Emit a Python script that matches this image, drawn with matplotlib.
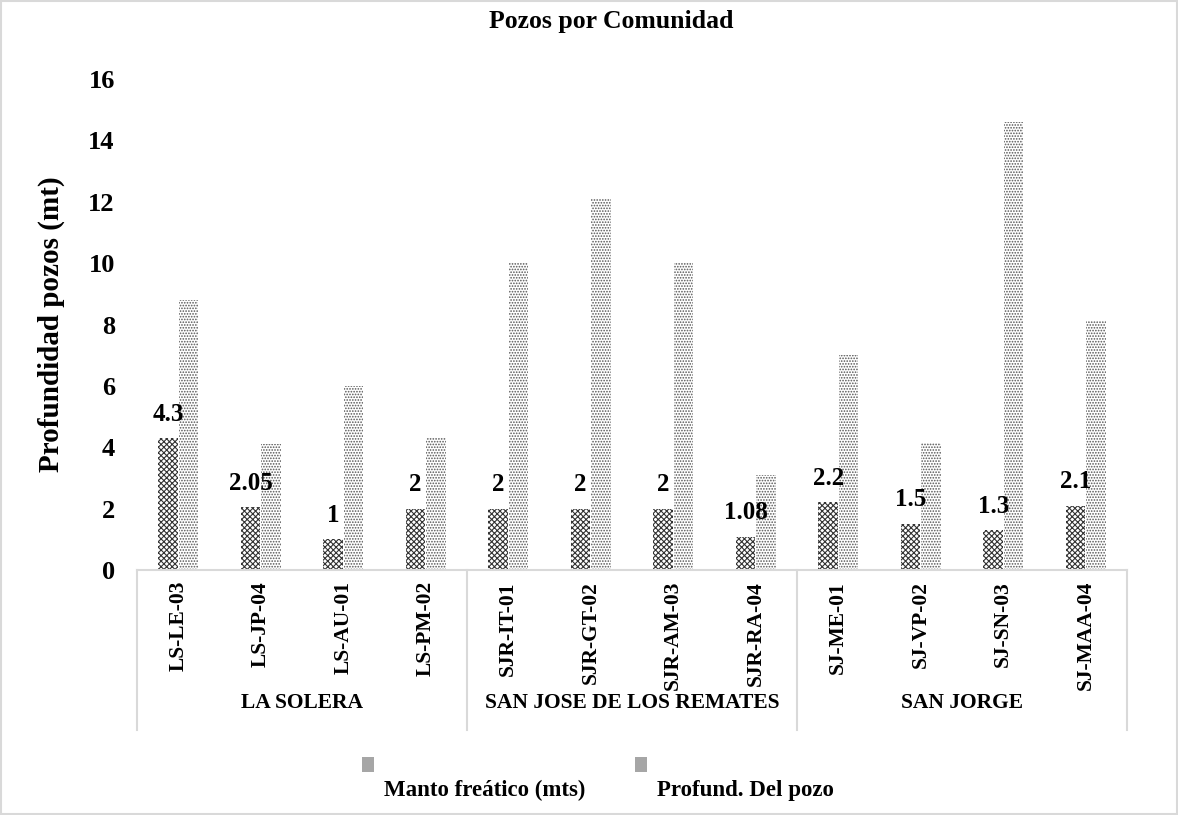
import numpy as np
import matplotlib.pyplot as plt
from matplotlib.patches import Patch, Rectangle
from matplotlib.legend_handler import HandlerPatch

plt.rcParams['font.family'] = ['Liberation Serif', 'DejaVu Serif']
plt.rcParams['font.weight'] = 'bold'
plt.rcParams['hatch.linewidth'] = 0.8

pozos = ["LS-LE-03", "LS-JP-04", "LS-AU-01", "LS-PM-02",
         "SJR-IT-01", "SJR-GT-02", "SJR-AM-03", "SJR-RA-04",
         "SJ-ME-01", "SJ-VP-02", "SJ-SN-03", "SJ-MAA-04"]
comunidades = ["LA SOLERA", "SAN JOSE DE LOS REMATES", "SAN JORGE"]
n_por_comunidad = [4, 4, 4]
manto = [4.3, 2.05, 1, 2, 2, 2, 2, 1.08, 2.2, 1.5, 1.3, 2.1]
manto_txt = ["4.3", "2.05", "1", "2", "2", "2", "2", "1.08", "2.2", "1.5", "1.3", "2.1"]
profund = [8.8, 4.1, 6.0, 4.3, 10.0, 12.1, 10.0, 3.1, 7.0, 4.15, 14.6, 8.1]

fig = plt.figure(figsize=(11.78, 8.15), dpi=100)
ax = fig.add_axes([137/1178, 1 - 570/815, (1127-137)/1178, (570-79)/815])

x = np.arange(len(pozos))
w = 0.235
b1 = ax.bar(x - w/2 - 0.005, manto, w, color='white', edgecolor='#333333',
            linewidth=0, hatch='xxxxxx')
b2 = ax.bar(x + w/2 + 0.005, profund, w, color='white', edgecolor='#555555',
            linewidth=0, hatch='......')

for rect, t in zip(b1, manto_txt):
    ax.annotate(t, (rect.get_x() + rect.get_width()/2, rect.get_height()),
                xytext=(0, 9), textcoords='offset points', ha='center',
                va='bottom', fontsize=18, fontweight='bold')

ax.set_xlim(-0.5, len(pozos) - 0.5)
ax.set_ylim(0, 16)
ax.set_yticks(np.arange(0, 17, 2))
ax.set_xticks(x)
ax.set_xticklabels(pozos, rotation=90, fontsize=15.5, fontweight='bold', va='top')
ax.tick_params(axis='both', length=0)
ax.tick_params(axis='x', pad=8)
ax.tick_params(axis='y', labelsize=19, pad=16)
for s in ['left', 'right', 'top']:
    ax.spines[s].set_visible(False)
ax.spines['bottom'].set_color('#d9d9d9')
ax.spines['bottom'].set_linewidth(1.5)

ax.set_ylabel("Profundidad pozos (mt)", fontsize=21, fontweight='bold', labelpad=17)
ax.set_title("Pozos por Comunidad", fontsize=18.5, fontweight='bold', pad=37,
             x=(611-137)/990)

# agrupacion por comunidad debajo del eje
tr = ax.get_xaxis_transform()
inicio = -0.5
for nombre, n in zip(comunidades, n_por_comunidad):
    ax.plot([inicio, inicio], [0, -0.326], transform=tr, color='#d9d9d9',
            lw=1.5, clip_on=False)
    ax.text(inicio + n/2, -0.271, nombre, transform=tr, ha='center', va='center',
            fontsize=15.5, fontweight='bold')
    inicio += n
ax.plot([inicio, inicio], [0, -0.326], transform=tr, color='#d9d9d9',
        lw=1.5, clip_on=False)


def marcador_alto(legend, orig_handle, xdescent, ydescent, width, height, fontsize):
    return Rectangle((-xdescent, -ydescent + height * 1.5), width, height)


handles = [Patch(facecolor='#a6a6a6', edgecolor='none'),
           Patch(facecolor='#a6a6a6', edgecolor='none')]
fig.legend(handles, ["Manto freático (mts)", "Profund. Del pozo"],
           loc='center', bbox_to_anchor=(598/1178, 1 - 790/815), ncol=2,
           frameon=False, prop={'size': 16.5, 'weight': 'bold'},
           handlelength=0.52, handleheight=0.65, handletextpad=0.44,
           columnspacing=2.2,
           handler_map={Patch: HandlerPatch(patch_func=marcador_alto)})

fig.patches.append(Rectangle((0.001, 0.001), 0.998, 0.998, transform=fig.transFigure,
                             fill=False, edgecolor='#d9d9d9', lw=1.5))

fig.savefig("out.png", dpi=100)
